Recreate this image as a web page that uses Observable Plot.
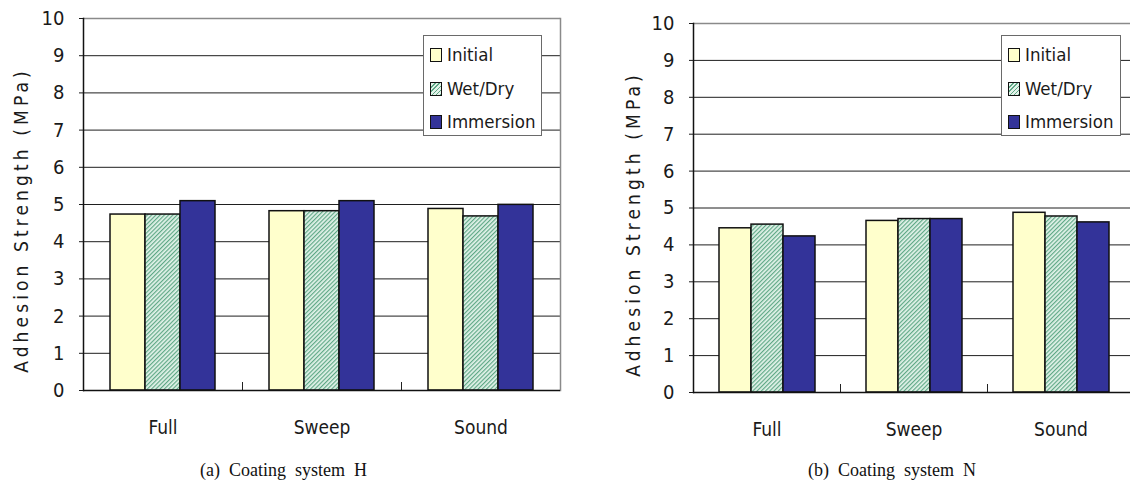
<!DOCTYPE html>
<html>
<head>
<meta charset="utf-8">
<script src="https://cdn.jsdelivr.net/npm/d3@7"></script>
<script src="https://cdn.jsdelivr.net/npm/@observablehq/plot@0.6"></script>
<style>
  html, body { margin: 0; padding: 0; background: #fff; }
  #root { position: relative; width: 1130px; height: 492px; overflow: hidden; background: #fff;
          font-family: "Liberation Sans Narrow", "DejaVu Sans Condensed", "Liberation Sans", sans-serif; color: #1a1a1a; }
  .panel { position: absolute; top: 0; height: 440px; }
  .panel svg { max-width: none !important; }
  .legend { position: absolute; box-sizing: border-box; border: 1.5px solid #6a6a6a; background: #fff; }
  .legend .row { position: absolute; left: 6px; display: flex; align-items: center; height: 22px; font-size: 18.5px; line-height: 22px; }
  .legend .sw { width: 10px; height: 12px; border: 1.5px solid #111; margin-right: 5px; }
  .ylabel { position: absolute; white-space: nowrap; font-size: 19px; letter-spacing: 4.1px; transform: translate(-50%, -50%) rotate(-90deg); }
  .caption { position: absolute; white-space: pre; font-family: "Liberation Serif", "DejaVu Serif", serif; font-size: 18px; line-height: 20px; color: #111; }
</style>
</head>
<body>
<div id="root"></div>
<script>
// ---------------- data ----------------
const categories = ["Full", "Sweep", "Sound"];
const seriesNames = ["Initial", "Wet/Dry", "Immersion"];
const yTicks = [0, 1, 2, 3, 4, 5, 6, 7, 8, 9, 10];

// (a) Coating system H
const systemH_initial   = [4.73, 4.82, 4.88];
const systemH_wetdry    = [4.73, 4.82, 4.68];
const systemH_immersion = [5.09, 5.09, 4.99];

// (b) Coating system N
const systemN_initial   = [4.45, 4.65, 4.87];
const systemN_wetdry    = [4.55, 4.70, 4.77];
const systemN_immersion = [4.23, 4.70, 4.61];

const yLabel = "Adhesion Strength (MPa)";
const captions = ["(a)  Coating  system  H", "(b)  Coating  system  N"];

// ---------------- styling ----------------
const FONT = '"Liberation Sans Narrow", "DejaVu Sans Condensed", "Liberation Sans", sans-serif';
const seriesFills = ["#ffffcc", "url(#hatchWD)", "#333399"];
const seriesSwatch = ["#ffffcc",
  "repeating-linear-gradient(-45deg, #5fa886 0px, #5fa886 1px, #e3f3ea 1px, #e3f3ea 3px)",
  "#333399"];

function makeTable(initial, wetdry, immersion) {
  const cols = [initial, wetdry, immersion];
  return categories.flatMap((c, i) => seriesNames.map((s, j) => ({category: c, series: s, value: cols[j][i]})));
}

function addPattern(svg) {
  const defs = d3.select(svg).insert("defs", ":first-child");
  const p = defs.append("pattern")
    .attr("id", "hatchWD")
    .attr("patternUnits", "userSpaceOnUse")
    .attr("width", 3).attr("height", 3)
    .attr("patternTransform", "rotate(45)");
  p.append("rect").attr("width", 3).attr("height", 3).attr("fill", "#e3f3ea");
  p.append("rect").attr("width", 1.2).attr("height", 3).attr("fill", "#5fa886");
}

function makeChart(table, cfg) {
  const H = 440;
  const plotH = cfg.base - cfg.mt;
  const svg = Plot.plot({
    width: cfg.width,
    height: H,
    marginLeft: cfg.ml,
    marginRight: cfg.mr,
    marginTop: cfg.mt,
    marginBottom: H - cfg.base,
    style: {fontFamily: FONT, fontSize: "20px", color: "#1a1a1a", background: "transparent", overflow: "visible", maxWidth: "none"},
    fx: {domain: categories, padding: 0},
    x: {domain: seriesNames, paddingInner: 0, paddingOuter: cfg.po, axis: null},
    y: {domain: [0, 10]},
    color: {domain: seriesNames, range: seriesFills},
    marks: [
      Plot.gridY(yTicks.filter(d => d > 0 && d < 10), {stroke: "#1f1f1f", strokeOpacity: 1, strokeWidth: 1}),
      Plot.ruleY([10], {stroke: "#8a8a8a", strokeWidth: 1.5}),
      Plot.frame({anchor: "left", insetTop: plotH - 8, stroke: "#222", strokeWidth: 1}),
      cfg.rightBorder ? Plot.frame({facet: "super", anchor: "right", stroke: "#8a8a8a", strokeWidth: 1.5}) : null,
      Plot.barY(table, {fx: "category", x: "series", y: "value", fill: "series", stroke: "#111", strokeWidth: 1.5}),
      Plot.ruleY([0], {stroke: "#111", strokeWidth: 1.5}),
      Plot.frame({facet: "super", anchor: "left", stroke: "#111", strokeWidth: 1.5}),
      Plot.axisY(yTicks, {anchor: "left", tickSize: 4, tickPadding: 15, label: null, fontSize: 20, tickFormat: d => String(d)}),
      Plot.axisFx({anchor: "bottom", tickSize: 0, tickPadding: 30, label: null, fontSize: 19})
    ]
  });
  addPattern(svg);
  return svg;
}

function addLegend(root, left, top, width) {
  const box = document.createElement("div");
  box.className = "legend";
  Object.assign(box.style, {left: left + "px", top: top + "px", width: width + "px", height: "101px"});
  seriesNames.forEach((s, i) => {
    const row = document.createElement("div");
    row.className = "row";
    row.style.top = (8 + i * 33.5) + "px";
    const sw = document.createElement("div");
    sw.className = "sw";
    sw.style.background = seriesSwatch[i];
    const tx = document.createElement("span");
    tx.textContent = s;
    row.appendChild(sw); row.appendChild(tx);
    box.appendChild(row);
  });
  root.appendChild(box);
}

function addYLabel(root, cx, cy) {
  const d = document.createElement("div");
  d.className = "ylabel";
  d.textContent = yLabel;
  Object.assign(d.style, {left: cx + "px", top: cy + "px"});
  root.appendChild(d);
}

function addCaption(root, text, left, top) {
  const d = document.createElement("div");
  d.className = "caption";
  d.textContent = text;
  Object.assign(d.style, {left: left + "px", top: top + "px"});
  root.appendChild(d);
}

const root = document.getElementById("root");

// Left panel (a)
const left = document.createElement("div");
left.className = "panel"; left.style.left = "0px"; left.style.width = "565px";
left.appendChild(makeChart(makeTable(systemH_initial, systemH_wetdry, systemH_immersion),
  {width: 565, ml: 82, mr: 4, mt: 18, base: 390, po: 0.76, rightBorder: true}));
root.appendChild(left);

// Right panel (b)
const right = document.createElement("div");
right.className = "panel"; right.style.left = "565px"; right.style.width = "575px";
right.appendChild(makeChart(makeTable(systemN_initial, systemN_wetdry, systemN_immersion),
  {width: 575, ml: 127, mr: 5.5, mt: 23, base: 392, po: 0.73, rightBorder: false}));
root.appendChild(right);

addLegend(root, 423, 35, 119);
addLegend(root, 1001, 35, 120);
addYLabel(root, 21, 220);
addYLabel(root, 633, 224);
addCaption(root, captions[0], 200, 460);
addCaption(root, captions[1], 808, 460);
</script>
</body>
</html>
